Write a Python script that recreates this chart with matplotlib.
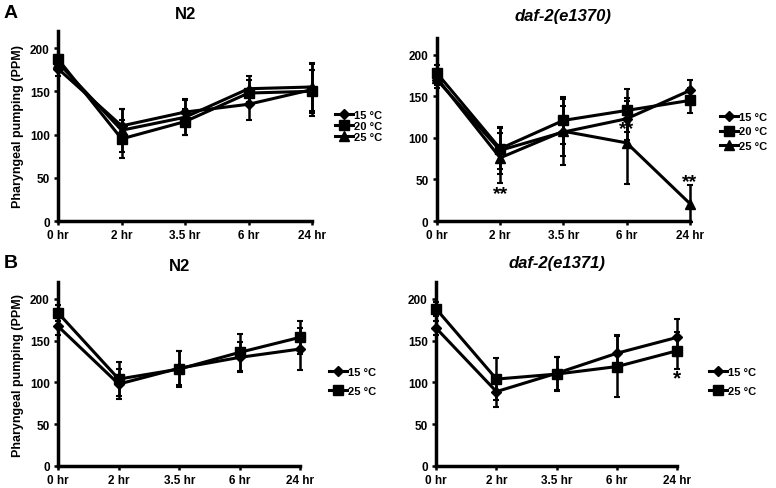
import numpy as np
import matplotlib
matplotlib.use("Agg")
import matplotlib.pyplot as plt
from matplotlib.lines import Line2D

plt.rcParams['font.family'] = ['Liberation Sans', 'DejaVu Sans']
plt.rcParams['font.weight'] = 'bold'

times = ["0 hr", "2 hr", "3.5 hr", "6 hr", "24 hr"]

# panel A, N2
a_n2_15 = [176, 110, 126, 135, 152]
a_n2_15_err = [8, 20, 15, 18, 30]
a_n2_20 = [187, 95, 115, 148, 150]
a_n2_20_err = [5, 22, 15, 15, 25]
a_n2_25 = [183, 105, 120, 153, 155]
a_n2_25_err = [6, 25, 20, 15, 28]

# panel A, daf-2(e1370)
a_daf_15 = [170, 85, 107, 123, 157]
a_daf_15_err = [10, 28, 40, 25, 13]
a_daf_20 = [178, 87, 121, 133, 145]
a_daf_20_err = [10, 25, 28, 26, 15]
a_daf_25 = [172, 76, 108, 94, 21]
a_daf_25_err = [8, 30, 30, 50, 22]

# panel B, N2
b_n2_15 = [167, 98, 117, 130, 140]
b_n2_15_err = [10, 18, 20, 18, 25]
b_n2_25 = [183, 104, 116, 136, 154]
b_n2_25_err = [10, 20, 22, 22, 20]

# panel B, daf-2(e1371)
b_daf_15 = [165, 89, 111, 135, 154]
b_daf_15_err = [8, 18, 20, 22, 22]
b_daf_25 = [188, 104, 110, 119, 138]
b_daf_25_err = [8, 25, 20, 36, 22]

labels_3 = ["15 °C", "20 °C", "25 °C"]
labels_2 = ["15 °C", "25 °C"]
markers_3 = ["D", "s", "^"]
markers_2 = ["D", "s"]
sizes = {"D": 5.5, "s": 7, "^": 7}

fig = plt.figure(figsize=(7.76, 4.89), dpi=100)


def draw(rect, series, errs, labels, markers, title, italic, tpad, leg_x, leg_y, leg_sp):
    ax = fig.add_axes(rect)
    x = np.arange(len(times))
    handles = []
    for vals, err, lab, m in zip(series, errs, labels, markers):
        ax.errorbar(x, vals, yerr=err, color="black", lw=2.2, marker=m,
                    ms=sizes[m], capsize=2.5, elinewidth=1.8, capthick=1.5,
                    clip_on=False)
        handles.append(Line2D([], [], color="black", lw=2.2, marker=m,
                              ms=sizes[m], label=lab))
    ax.set_xlim(0, 4)
    ax.set_ylim(0, 220)
    ax.set_yticks([0, 50, 100, 150, 200])
    ax.set_xticks(x)
    ax.set_xticklabels(times)
    for s in ["top", "right"]:
        ax.spines[s].set_visible(False)
    for s in ["left", "bottom"]:
        ax.spines[s].set_linewidth(2.5)
    ax.tick_params(width=1.8, length=3, labelsize=8.5, pad=3)
    ax.set_title(title, fontsize=12, fontweight="bold",
                 fontstyle="italic" if italic else "normal", pad=tpad)
    ax.legend(handles=handles, loc="center left", bbox_to_anchor=(leg_x, leg_y),
              frameon=False, fontsize=8, handlelength=1.6, handletextpad=0.1,
              labelspacing=leg_sp, borderaxespad=0, borderpad=0)
    return ax


ax1 = draw([0.075, 0.546, 0.327, 0.389],
           [a_n2_15, a_n2_20, a_n2_25], [a_n2_15_err, a_n2_20_err, a_n2_25_err],
           labels_3, markers_3, "N2", False, 9, 1.09, 0.5, 0.08)
ax1.set_ylabel("Pharyngeal pumping (PPM)", fontsize=9, fontweight="bold")

ax2 = draw([0.563, 0.546, 0.326, 0.374],
           [a_daf_15, a_daf_20, a_daf_25], [a_daf_15_err, a_daf_20_err, a_daf_25_err],
           labels_3, markers_3, "daf-2(e1370)", True, 13, 1.12, 0.49, 0.4)
ax2.text(1, 33, "**", ha="center", va="center", fontsize=14)
ax2.text(3, 111, "**", ha="center", va="center", fontsize=14)
ax2.text(4, 48, "**", ha="center", va="center", fontsize=14)

ax3 = draw([0.075, 0.045, 0.312, 0.376],
           [b_n2_15, b_n2_25], [b_n2_15_err, b_n2_25_err],
           labels_2, markers_2, "N2", False, 9, 1.12, 0.46, 0.75)
ax3.set_ylabel("Pharyngeal pumping (PPM)", fontsize=9, fontweight="bold")

ax4 = draw([0.562, 0.045, 0.311, 0.376],
           [b_daf_15, b_daf_25], [b_daf_15_err, b_daf_25_err],
           labels_2, markers_2, "daf-2(e1371)", True, 11, 1.13, 0.46, 0.75)
ax4.text(4, 106, "*", ha="center", va="center", fontsize=15)

fig.text(0.005, 0.972, "A", fontsize=14, fontweight="bold", va="center")
fig.text(0.005, 0.462, "B", fontsize=14, fontweight="bold", va="center")

fig.savefig("out.png", dpi=100)
